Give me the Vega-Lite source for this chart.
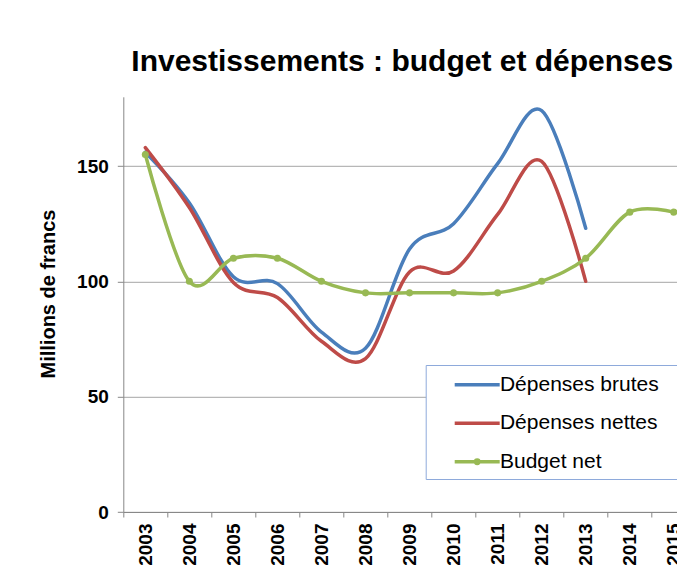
{
  "$schema": "https://vega.github.io/schema/vega-lite/v6.json",
  "width": 553.7,
  "height": 415.2,
  "autosize": {"type": "none"},
  "padding": {"left": 123.3, "top": 96.8, "right": 0, "bottom": 75},
  "background": "white",
  "title": {
    "text": "Investissements : budget et dépenses",
    "font": "Liberation Sans",
    "fontSize": 30,
    "fontWeight": "bold",
    "color": "#000000",
    "anchor": "start",
    "frame": "group",
    "dx": 8,
    "offset": 20
  },
  "config": {"view": {"stroke": null}, "font": "Liberation Sans"},
  "data": {
    "values": [
      {"year": 2003, "series": "Dépenses brutes", "value": 156},
      {"year": 2004, "series": "Dépenses brutes", "value": 134},
      {"year": 2005, "series": "Dépenses brutes", "value": 102},
      {"year": 2006, "series": "Dépenses brutes", "value": 99},
      {"year": 2007, "series": "Dépenses brutes", "value": 78},
      {"year": 2008, "series": "Dépenses brutes", "value": 71},
      {"year": 2009, "series": "Dépenses brutes", "value": 114},
      {"year": 2010, "series": "Dépenses brutes", "value": 125},
      {"year": 2011, "series": "Dépenses brutes", "value": 151},
      {"year": 2012, "series": "Dépenses brutes", "value": 174},
      {"year": 2013, "series": "Dépenses brutes", "value": 123},
      {"year": 2003, "series": "Dépenses nettes", "value": 158},
      {"year": 2004, "series": "Dépenses nettes", "value": 132},
      {"year": 2005, "series": "Dépenses nettes", "value": 99.5},
      {"year": 2006, "series": "Dépenses nettes", "value": 93},
      {"year": 2007, "series": "Dépenses nettes", "value": 74},
      {"year": 2008, "series": "Dépenses nettes", "value": 66.5},
      {"year": 2009, "series": "Dépenses nettes", "value": 104},
      {"year": 2010, "series": "Dépenses nettes", "value": 104.5},
      {"year": 2011, "series": "Dépenses nettes", "value": 129},
      {"year": 2012, "series": "Dépenses nettes", "value": 152},
      {"year": 2013, "series": "Dépenses nettes", "value": 100},
      {"year": 2003, "series": "Budget net", "value": 155},
      {"year": 2004, "series": "Budget net", "value": 100},
      {"year": 2005, "series": "Budget net", "value": 110},
      {"year": 2006, "series": "Budget net", "value": 110},
      {"year": 2007, "series": "Budget net", "value": 100},
      {"year": 2008, "series": "Budget net", "value": 95},
      {"year": 2009, "series": "Budget net", "value": 95},
      {"year": 2010, "series": "Budget net", "value": 95},
      {"year": 2011, "series": "Budget net", "value": 95},
      {"year": 2012, "series": "Budget net", "value": 100},
      {"year": 2013, "series": "Budget net", "value": 110},
      {"year": 2014, "series": "Budget net", "value": 130},
      {"year": 2015, "series": "Budget net", "value": 130}
    ]
  },
  "encoding": {
    "x": {
      "field": "year",
      "type": "quantitative",
      "scale": {"domain": [2002.5, 2015.073], "nice": false, "zero": false},
      "axis": {
        "values": [2002.5, 2003.5, 2004.5, 2005.5, 2006.5, 2007.5, 2008.5, 2009.5, 2010.5, 2011.5, 2012.5, 2013.5, 2014.5],
        "labelExpr": "format(datum.value + 0.5, 'd')",
        "labelOffset": 22.02,
        "labelAngle": 270,
        "labelAlign": "right",
        "labelBaseline": "middle",
        "labelFont": "Liberation Sans",
        "labelFontSize": 19,
        "labelFontWeight": "bold",
        "labelColor": "#000000",
        "labelPadding": 6,
        "labelOverlap": false,
        "labelBound": false,
        "labelFlush": false,
        "tickSize": 5,
        "tickColor": "#888888",
        "domainColor": "#888888",
        "grid": false,
        "title": null
      }
    },
    "y": {
      "field": "value",
      "type": "quantitative",
      "scale": {"domain": [0, 180], "nice": false},
      "axis": {
        "values": [0, 50, 100, 150],
        "grid": true,
        "gridColor": "#a6a6a6",
        "tickSize": 6,
        "tickColor": "#888888",
        "domainColor": "#888888",
        "labelPadding": 9,
        "labelFont": "Liberation Sans",
        "labelFontSize": 19,
        "labelFontWeight": "bold",
        "labelColor": "#000000",
        "title": "Millions de francs",
        "titleFont": "Liberation Sans",
        "titleFontSize": 20,
        "titleFontWeight": "bold",
        "titleColor": "#000000",
        "titleX": -75.3,
        "titleY": 196.7,
        "titleAngle": 270,
        "titleAlign": "center",
        "titleBaseline": "middle"
      }
    },
    "color": {
      "field": "series",
      "type": "nominal",
      "scale": {
        "domain": ["Dépenses brutes", "Dépenses nettes", "Budget net"],
        "range": ["#4a7ebb", "#be4b48", "#98b954"]
      },
      "legend": {
        "orient": "none",
        "legendX": 302.4,
        "legendY": 268.2,
        "title": null,
        "direction": "vertical",
        "symbolType": "M-2,0H2",
        "symbolSize": 506,
        "symbolStrokeWidth": 3.5,
        "symbolOffset": 31.75,
        "labelOffset": 9.75,
        "labelFont": "Liberation Sans",
        "labelFontSize": 21,
        "labelColor": "#000000",
        "labelLimit": 0,
        "labelExpr": "datum.label + '\uffa0'",
        "rowPadding": 15.5,
        "padding": 6.75,
        "strokeColor": "#8eaadb",
        "fillColor": "white",
        "encode": {
          "symbols": {
            "update": {
              "shape": {"signal": "datum.value === 'Budget net' ? 'M-2,0H2M0.15,0A0.15,0.15 0 1 1 -0.15,0A0.15,0.15 0 1 1 0.15,0' : 'M-2,0H2'"}
            }
          }
        }
      }
    }
  },
  "layer": [
    {
      "mark": {"type": "line", "interpolate": "cardinal", "strokeWidth": 3.5, "strokeCap": "round", "clip": true}
    },
    {
      "transform": [{"filter": "datum.series === 'Budget net'"}],
      "mark": {"type": "circle", "size": 50, "opacity": 1, "clip": true},
      "encoding": {"color": {"value": "#98b954"}}
    }
  ]
}
